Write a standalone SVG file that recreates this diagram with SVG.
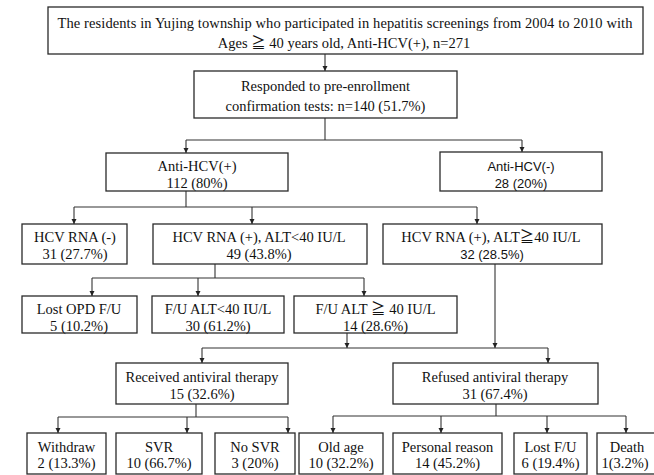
<svg xmlns="http://www.w3.org/2000/svg" width="654" height="475" viewBox="0 0 654 475">
<defs>
<marker id="ah" markerUnits="userSpaceOnUse" markerWidth="6" markerHeight="6" refX="5" refY="3" orient="auto">
<path d="M0,0.5 L5,3 L0,5.5 z" fill="#222"/>
</marker>
<style>
.box{fill:#fff;stroke:#2a2a2a;stroke-width:1.3}
.t{font-family:"Liberation Serif","Times New Roman","Noto Sans CJK JP",serif;font-size:14.5px;fill:#111;text-anchor:middle;dominant-baseline:central}
.s{font-family:"Liberation Sans",Arial,sans-serif;font-size:13px;fill:#111;text-anchor:middle;dominant-baseline:central}
.c{fill:none;stroke:#333;stroke-width:1.1}
.a{marker-end:url(#ah)}
</style>
</defs>
<rect width="654" height="475" fill="#fff"/>
<g id="connectors">
<path class="c a" d="M325,54 V71"/>
<path class="c" d="M325,118 V140 M186,140 H522"/>
<path class="c a" d="M186,140 V153"/>
<path class="c a" d="M522,140 V152"/>
<path class="c" d="M186,191 V207 M74,207 H477"/>
<path class="c a" d="M74,207 V224"/>
<path class="c a" d="M252,207 V224"/>
<path class="c a" d="M477,207 V224"/>
<path class="c" d="M215,264 V278 M92,278 H364"/>
<path class="c a" d="M92,278 V296"/>
<path class="c a" d="M198,278 V296"/>
<path class="c a" d="M364,278 V296"/>
<path class="c a" d="M347,333 V348"/>
<path class="c a" d="M495,264 V348"/>
<path class="c" d="M202,348 H548"/>
<path class="c a" d="M202,348 V363"/>
<path class="c a" d="M548,348 V363"/>
<path class="c" d="M196,404 V417 M58,417 H288"/>
<path class="c a" d="M58,417 V433"/>
<path class="c a" d="M187,417 V433"/>
<path class="c a" d="M288,417 V433"/>
<path class="c" d="M496,404 V416 M333,416 H626"/>
<path class="c a" d="M333,416 V433"/>
<path class="c a" d="M441,416 V433"/>
<path class="c a" d="M547,416 V433"/>
<path class="c a" d="M626,416 V433"/>
</g>
<g id="n-top">
<rect class="box" x="48" y="7" width="595" height="47"/>
<text class="t" x="345" y="23" textLength="575" lengthAdjust="spacing">The residents in Yujing township who participated in hepatitis screenings from 2004 to 2010 with</text>
<text class="t" x="344" y="43">Ages ≧ 40 years old, Anti-HCV(+), n=271</text>
</g>
<g id="n-responded">
<rect class="box" x="194" y="71" width="263" height="47"/>
<text class="t" x="325.5" y="86">Responded to pre-enrollment</text>
<text class="t" x="325.5" y="106">confirmation tests: n=140 (51.7%)</text>
</g>
<g id="n-antipos">
<rect class="box" x="106" y="153" width="182" height="38"/>
<text class="t" x="197" y="166">Anti-HCV(+)</text>
<text class="t" x="197" y="183">112 (80%)</text>
</g>
<g id="n-antineg">
<rect class="box" x="440" y="152" width="162" height="39"/>
<text class="s" x="521" y="166">Anti-HCV(-)</text>
<text class="s" x="521" y="183">28 (20%)</text>
</g>
<g id="n-rnaneg">
<rect class="box" x="22" y="224" width="105" height="40"/>
<text class="t" x="75" y="237">HCV RNA (-)</text>
<text class="t" x="75" y="254">31 (27.7%)</text>
</g>
<g id="n-rnapos-low">
<rect class="box" x="153" y="224" width="214" height="40"/>
<text class="t" x="259" y="237">HCV RNA (+), ALT&lt;40  IU/L</text>
<text class="t" x="259" y="254">49 (43.8%)</text>
</g>
<g id="n-rnapos-high">
<rect class="box" x="383" y="224" width="219" height="40"/>
<text class="t" x="491" y="237">HCV RNA (+), ALT≧40 IU/L</text>
<text class="s" x="492" y="254">32 (28.5%)</text>
</g>
<g id="n-lostopd">
<rect class="box" x="22" y="296" width="115" height="37"/>
<text class="t" x="79" y="309">Lost OPD F/U</text>
<text class="t" x="79" y="326">5 (10.2%)</text>
</g>
<g id="n-fu-low">
<rect class="box" x="152" y="296" width="132" height="37"/>
<text class="t" x="218" y="309">F/U ALT&lt;40  IU/L</text>
<text class="t" x="218" y="326">30 (61.2%)</text>
</g>
<g id="n-fu-high">
<rect class="box" x="294" y="296" width="163" height="37"/>
<text class="t" x="375.5" y="309">F/U ALT ≧ 40 IU/L</text>
<text class="t" x="375.5" y="326">14 (28.6%)</text>
</g>
<g id="n-received">
<rect class="box" x="116" y="363" width="172" height="41"/>
<text class="t" x="202" y="377">Received antiviral therapy</text>
<text class="t" x="202" y="394">15 (32.6%)</text>
</g>
<g id="n-refused">
<rect class="box" x="393" y="363" width="205" height="41"/>
<text class="t" x="495" y="377">Refused antiviral therapy</text>
<text class="t" x="495" y="394">31 (67.4%)</text>
</g>
<g id="n-withdraw">
<rect class="box" x="27" y="433" width="79" height="41"/>
<text class="t" x="66.5" y="447">Withdraw</text>
<text class="t" x="66.5" y="463">2 (13.3%)</text>
</g>
<g id="n-svr">
<rect class="box" x="116" y="433" width="86" height="41"/>
<text class="t" x="159" y="447">SVR</text>
<text class="t" x="159" y="463">10 (66.7%)</text>
</g>
<g id="n-nosvr">
<rect class="box" x="215" y="433" width="80" height="41"/>
<text class="t" x="255" y="447">No SVR</text>
<text class="t" x="255" y="463">3 (20%)</text>
</g>
<g id="n-oldage">
<rect class="box" x="299" y="433" width="84" height="41"/>
<text class="t" x="341" y="447">Old age</text>
<text class="t" x="341" y="463">10 (32.2%)</text>
</g>
<g id="n-personal">
<rect class="box" x="393" y="433" width="109" height="41"/>
<text class="t" x="447.5" y="447">Personal reason</text>
<text class="t" x="447.5" y="463">14 (45.2%)</text>
</g>
<g id="n-lostfu">
<rect class="box" x="514" y="433" width="73" height="41"/>
<text class="t" x="550.5" y="447">Lost F/U</text>
<text class="t" x="550.5" y="463">6 (19.4%)</text>
</g>
<g id="n-death">
<rect class="box" x="597" y="433" width="66" height="41"/>
<text class="t" x="627" y="447">Death</text>
<text class="t" x="625" y="463">1(3.2%)</text>
</g>
</svg>
